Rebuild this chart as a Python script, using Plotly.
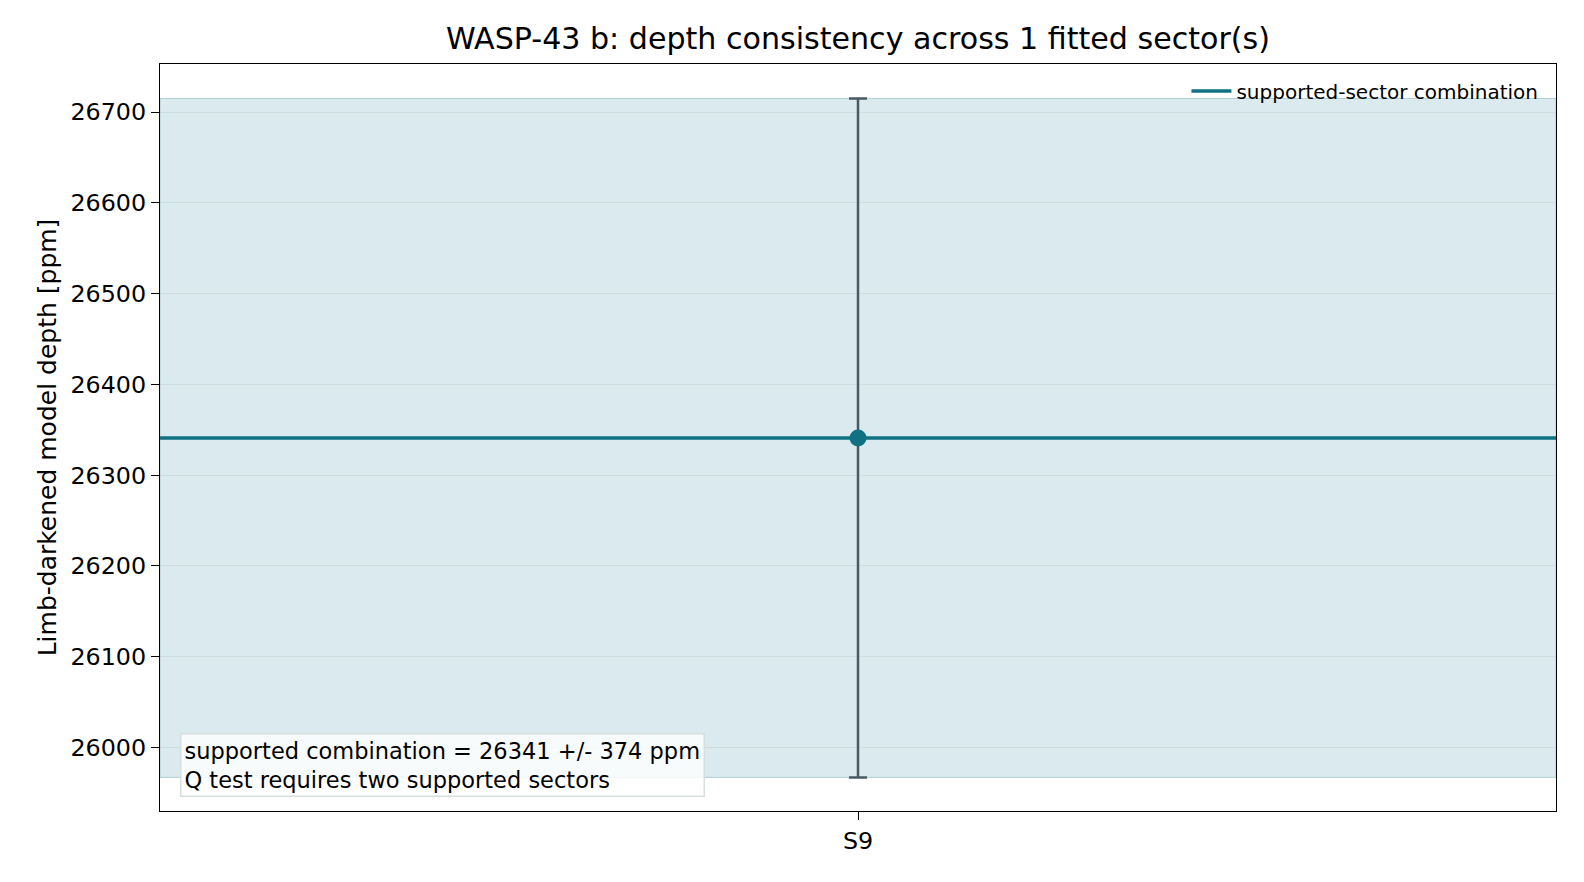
import plotly.graph_objects as go

# -----------------------------
# Data
# -----------------------------
sectors = ["S9"]
depth_ppm = [26341]
depth_err_ppm = [374]

combo_depth = 26341
combo_err = 374
y_ticks = [26000, 26100, 26200, 26300, 26400, 26500, 26600, 26700]

# -----------------------------
# Colors
# -----------------------------
LINE_COLOR = "#0E7282"
ERR_COLOR = "#4A5966"
BAND_COLOR = "rgba(160,200,210,0.38)"
BAND_EDGE = "rgba(140,185,195,0.6)"
GRID_COLOR = "rgba(190,205,200,0.45)"
FONT = "DejaVu Sans"

x_pos = list(range(len(sectors)))

fig = go.Figure()

# combination band (spans the full plot width)
fig.add_shape(
    type="rect", xref="paper", yref="y",
    x0=0, x1=1, y0=combo_depth - combo_err, y1=combo_depth + combo_err,
    fillcolor=BAND_COLOR, line=dict(color=BAND_EDGE, width=1), layer="below"
)

# combination line (legend entry)
fig.add_trace(go.Scatter(
    x=[-0.5, 0.5], y=[combo_depth, combo_depth],
    mode="lines", name="supported-sector combination",
    line=dict(color=LINE_COLOR, width=3.5),
    showlegend=True, hoverinfo="skip"
))

# sector depth with error bar
fig.add_trace(go.Scatter(
    x=x_pos, y=depth_ppm,
    mode="markers", name="sector depth",
    marker=dict(color=LINE_COLOR, size=17),
    error_y=dict(type="data", array=depth_err_ppm, visible=True,
                 color=ERR_COLOR, thickness=2.5, width=9),
    showlegend=False
))

fig.update_layout(
    width=1584, height=882,
    paper_bgcolor="white", plot_bgcolor="white",
    margin=dict(l=152, r=36, t=56, b=79),
    font=dict(family=FONT, color="black", size=23.8),
    title=dict(
        text="WASP-43 b: depth consistency across 1 fitted sector(s)",
        xref="paper", x=0.5, xanchor="center", y=0.9655, yanchor="middle",
        font=dict(size=30.1, family=FONT)
    ),
    showlegend=True,
    legend=dict(
        x=0.991, y=0.99, xanchor="right", yanchor="top",
        bgcolor="rgba(255,255,255,0)", borderwidth=0,
        font=dict(size=20, family=FONT),
        itemwidth=40
    ),
    xaxis=dict(
        range=[-0.5, 0.5],
        tickvals=x_pos, ticktext=sectors,
        showgrid=False, zeroline=False,
        showline=True, linecolor="black", linewidth=1.3, mirror=True,
        ticks="outside", ticklen=8, tickcolor="black",
        tickfont=dict(size=23.8)
    ),
    yaxis=dict(
        range=[25930, 26753],
        tickvals=y_ticks, tickformat="d",
        title=dict(text="Limb-darkened model depth [ppm]", font=dict(size=25), standoff=6),
        showgrid=True, gridcolor=GRID_COLOR, gridwidth=1,
        zeroline=False,
        showline=True, linecolor="black", linewidth=1.3, mirror=True,
        ticks="outside", ticklen=8, tickcolor="black",
        tickfont=dict(size=23.8)
    ),
)

fig.add_annotation(
    xref="paper", yref="paper", x=0.0145, y=0.019,
    xanchor="left", yanchor="bottom", align="left",
    text="supported combination = 26341 +/- 374 ppm<br>Q test requires two supported sectors",
    showarrow=False,
    font=dict(size=22.5, family=FONT),
    bgcolor="rgba(255,255,255,0.8)", bordercolor="rgba(215,222,222,1)",
    borderwidth=1.5, borderpad=3
)

fig.write_html("out.html")
